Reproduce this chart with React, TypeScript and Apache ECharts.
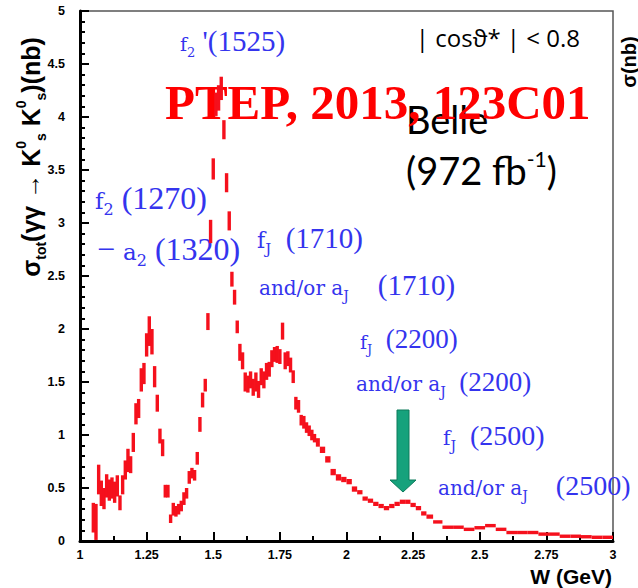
import React, { useEffect, useRef } from 'react';
import * as echarts from 'echarts';

// Bin centres W (GeV)
const W = [
  1.05, 1.06, 1.07, 1.08, 1.09, 1.10, 1.11, 1.12, 1.13, 1.14,
  1.15, 1.16, 1.17, 1.18, 1.19, 1.20, 1.21, 1.22, 1.23, 1.24,
  1.25, 1.26, 1.27, 1.28, 1.29, 1.30, 1.31, 1.32, 1.33, 1.34,
  1.35, 1.36, 1.37, 1.38, 1.39, 1.40, 1.41, 1.42, 1.43, 1.44,
  1.45, 1.46, 1.47, 1.48, 1.49, 1.50, 1.51, 1.52, 1.53, 1.54,
  1.55, 1.56, 1.57, 1.58, 1.59, 1.60, 1.61, 1.62, 1.63, 1.64,
  1.65, 1.66, 1.67, 1.68, 1.69, 1.70, 1.71, 1.72, 1.73, 1.74,
  1.75, 1.76, 1.77, 1.78, 1.79, 1.80, 1.81, 1.82, 1.83, 1.84,
  1.85, 1.86, 1.87, 1.88, 1.89,
  1.91, 1.93, 1.95, 1.97, 1.99, 2.01, 2.03, 2.05, 2.07, 2.09,
  2.11, 2.13, 2.15, 2.17, 2.19, 2.21, 2.23, 2.25, 2.27, 2.29, 2.31,
  2.34, 2.38, 2.42, 2.46, 2.50, 2.54, 2.58, 2.62, 2.66, 2.70,
  2.74, 2.78, 2.82, 2.86, 2.90, 2.94, 2.98,
];

// Cross section sigma_tot (nb)
const sigma = [
  0.22, 0.18, 0.58, 0.45, 0.40, 0.52, 0.48, 0.50, 0.46, 0.52,
  0.36, 0.53, 0.67, 0.76, 0.72, 0.93, 1.20, 1.25, 1.52, 1.58,
  1.85, 1.98, 1.88, 1.55, 1.30, 0.99, 0.88, 0.47, 0.47, 0.21,
  0.30, 0.28, 0.30, 0.33, 0.40, 0.45, 0.60, 0.64, 0.62, 0.78,
  1.10, 1.33, 1.47, 2.07, 2.92, 3.51, 4.12, 4.18, 4.27, 3.88,
  3.38, 3.02, 2.47, 2.30, 2.02, 1.78, 1.70, 1.50, 1.48, 1.52,
  1.45, 1.50, 1.43, 1.55, 1.52, 1.60, 1.62, 1.72, 1.76, 1.76,
  1.74, 1.98, 1.70, 1.72, 1.66, 1.55, 1.30, 1.27, 1.14, 1.12,
  1.07, 1.04, 1.00, 0.97, 0.93,
  0.86, 0.77, 0.65, 0.60, 0.58, 0.56, 0.49, 0.46, 0.40, 0.38,
  0.35, 0.33, 0.31, 0.33, 0.35, 0.37, 0.37, 0.34, 0.31, 0.26, 0.23,
  0.18, 0.13, 0.13, 0.11, 0.125, 0.145, 0.11, 0.08, 0.08, 0.08,
  0.065, 0.065, 0.045, 0.045, 0.04, 0.035, 0.035,
];

// Statistical errors (nb)
const sigmaErr = [
  0.14, 0.17, 0.14, 0.12, 0.10, 0.11, 0.10, 0.10, 0.10, 0.10,
  0.07, 0.09, 0.09, 0.11, 0.08, 0.09, 0.10, 0.09, 0.11, 0.10,
  0.11, 0.14, 0.12, 0.10, 0.08, 0.07, 0.08, 0.06, 0.06, 0.04,
  0.06, 0.05, 0.05, 0.05, 0.06, 0.05, 0.06, 0.05, 0.05, 0.06,
  0.07, 0.07, 0.06, 0.08, 0.11, 0.10, 0.11, 0.12, 0.11, 0.09,
  0.09, 0.09, 0.07, 0.07, 0.06, 0.08, 0.08, 0.09, 0.08, 0.08,
  0.08, 0.09, 0.08, 0.08, 0.08, 0.08, 0.07, 0.08, 0.07, 0.08,
  0.07, 0.08, 0.08, 0.07, 0.07, 0.06, 0.06, 0.06, 0.05, 0.06,
  0.05, 0.05, 0.05, 0.04, 0.04,
  0.03, 0.03, 0.03, 0.03, 0.025, 0.025, 0.025, 0.02, 0.02, 0.02,
  0.02, 0.02, 0.02, 0.02, 0.02, 0.02, 0.02, 0.02, 0.02, 0.02, 0.02,
  0.012, 0.01, 0.01, 0.01, 0.01, 0.01, 0.01, 0.008, 0.008, 0.008,
  0.007, 0.007, 0.006, 0.006, 0.006, 0.005, 0.005,
];

const RED = '#f5101c';
const BLUE = '#3434ee';
const NB = '\u00a0';

function binData() {
  const n = W.length;
  return W.map((w, i) => {
    const prev = i > 0 ? W[i - 1] : w - (W[1] - W[0]);
    const next = i < n - 1 ? W[i + 1] : w + (W[n - 1] - W[n - 2]);
    return [w, sigma[i], sigmaErr[i], (prev + w) / 2, (w + next) / 2];
  });
}

// rich styles for a resonance annotation: big serif numbers, small letters, lowered subscripts
function annRich(big: number, small: number) {
  const L = big + 14;
  const mainCenter = L / 2;
  const baseline = mainCenter + 0.34 * big;
  const sCenter = baseline - 0.35 * small;
  const subSize = Math.round(small * 0.68);
  const subCenter = baseline + 6 - 0.35 * subSize;
  const sH = 2 * (L - sCenter);
  const subH = 2 * (L - subCenter);
  return {
    b: { fontFamily: 'Liberation Serif', fontSize: big, lineHeight: L, verticalAlign: 'middle' },
    s: { fontFamily: 'DejaVu Serif', fontSize: small, height: sH, lineHeight: sH, verticalAlign: 'bottom' },
    sub: { fontFamily: 'DejaVu Serif', fontSize: subSize, height: subH, lineHeight: subH, verticalAlign: 'bottom' },
  };
}

function ann(text: string, x: number, y: number, big: number, small: number) {
  return {
    type: 'text',
    x,
    y,
    silent: true,
    style: {
      text,
      rich: annRich(big, small),
      fill: BLUE,
      align: 'left',
      verticalAlign: 'middle',
      textAlign: 'left',
      textVerticalAlign: 'middle',
    },
  };
}

function plainText(text: string, x: number, y: number, font: any, align = 'left', fill = '#000') {
  return {
    type: 'text',
    x,
    y,
    silent: true,
    style: {
      text,
      fill,
      ...font,
      align,
      verticalAlign: 'middle',
      textAlign: align,
      textVerticalAlign: 'middle',
    },
  };
}

export default function App() {
  const ref = useRef<HTMLDivElement>(null);
  useEffect(() => {
    if (!ref.current) return;
    const chart = echarts.init(ref.current, undefined, { renderer: 'svg' });
    const axisLabel = {
      color: '#000',
      fontFamily: 'Liberation Sans',
      fontWeight: 'bold',
      fontSize: 12.5,
      formatter: (v: number) => String(v),
    };
    chart.setOption({
      animation: false,
      backgroundColor: '#fff',
      grid: {
        left: 80,
        right: 25,
        top: 11,
        bottom: 47,
        show: true,
        borderColor: '#555',
        borderWidth: 1.5,
        backgroundColor: 'transparent',
      },
      xAxis: {
        type: 'value',
        min: 1,
        max: 3,
        interval: 0.25,
        axisLine: { show: true, onZero: false, lineStyle: { color: '#000', width: 3 } },
        axisTick: { show: true, inside: true, length: 9, lineStyle: { color: '#000', width: 2 } },
        minorTick: { show: true, splitNumber: 2, length: 5, lineStyle: { color: '#000', width: 2 } },
        splitLine: { show: false },
        axisLabel: { ...axisLabel, margin: 7, showMinLabel: true, showMaxLabel: true },
      },
      yAxis: {
        type: 'value',
        min: 0,
        max: 5,
        interval: 0.5,
        axisLine: { show: true, onZero: false, lineStyle: { color: '#000', width: 3 } },
        axisTick: { show: true, inside: true, length: 9, lineStyle: { color: '#000', width: 2 } },
        minorTick: { show: true, splitNumber: 5, length: 5, lineStyle: { color: '#000', width: 2 } },
        splitLine: { show: false },
        axisLabel: { ...axisLabel, margin: 15 },
      },
      series: [
        {
          type: 'custom',
          clip: true,
          data: binData(),
          encode: { x: 0, y: 1 },
          renderItem: (params: any, api: any) => {
            const y = api.value(1) as number;
            const e = api.value(2) as number;
            const lo = api.value(3) as number;
            const hi = api.value(4) as number;
            const pTop = api.coord([lo, y + e]);
            const pBot = api.coord([hi, y - e]);
            let left = pTop[0];
            let top = pTop[1];
            let w = pBot[0] - pTop[0];
            let h = pBot[1] - pTop[1];
            if (w < 3.4) {
              const c = left + w / 2;
              left = c - 1.7;
              w = 3.4;
            }
            if (h < 3.4) {
              const c = top + h / 2;
              top = c - 1.7;
              h = 3.4;
            }
            return {
              type: 'rect',
              shape: { x: left, y: top, width: w, height: h },
              style: { fill: RED },
            };
          },
        },
      ],
      graphic: [
        // y axis title
        {
          type: 'text',
          x: 31,
          y: 157,
          rotation: Math.PI / 2,
          silent: true,
          style: {
            text: '{n|σ}{sub|tot}{n|(γγ → K}{sup|0}{sub|s}{n| K}{sup|0}{sub|s}{n|)(nb)}',
            rich: {
              n: { fontFamily: 'Liberation Sans', fontWeight: 'bold', fontSize: 25, lineHeight: 34, verticalAlign: 'middle' },
              sub: { fontFamily: 'Liberation Sans', fontWeight: 'bold', fontSize: 14, lineHeight: 16, verticalAlign: 'bottom' },
              sup: { fontFamily: 'Liberation Sans', fontWeight: 'bold', fontSize: 14, lineHeight: 16, verticalAlign: 'top' },
            },
            fill: '#000',
            align: 'center',
            verticalAlign: 'middle',
            textAlign: 'center',
            textVerticalAlign: 'middle',
          },
        },
        // x axis title
        plainText('W (GeV)', 612, 576, { fontFamily: 'Liberation Sans', fontWeight: 'bold', fontSize: 21 }, 'right'),
        // cut condition
        plainText('| cosϑ* | < 0.8', 580, 37, { fontFamily: 'Open Sans', fontSize: 24 }, 'right'),
        // Belle
        plainText('Belle', 406, 119, { fontFamily: 'Lato', fontSize: 38 }),
        {
          type: 'text',
          x: 406,
          y: 170,
          silent: true,
          style: {
            text: '{n|(972 fb}{sup|-1}{n|)}',
            rich: {
              n: { fontFamily: 'Lato', fontSize: 38, lineHeight: 44, verticalAlign: 'middle' },
              sup: { fontFamily: 'Lato', fontSize: 21, lineHeight: 26, verticalAlign: 'top' },
            },
            fill: '#000',
            align: 'left',
            verticalAlign: 'middle',
            textAlign: 'left',
            textVerticalAlign: 'middle',
          },
        },
        // annotations
        ann(`{s|f}{sub|2}{b|${NB}'(1525)}`, 180, 41, 29, 19),
        ann(`{s|f}{sub|2}{b|${NB}(1270)}`, 95, 198, 32, 23),
        ann(`{b|−${NB}}{s|a}{sub|2}{b|${NB}(1320)}`, 97, 249, 32, 23),
        ann(`{s|f}{sub|J}{b|${NB}${NB}(1710)}`, 257, 238, 29, 22),
        ann(`{s|and/or${NB}a}{sub|J}{b|${NB}${NB}${NB}${NB}(1710)}`, 259, 285, 29, 20),
        ann(`{s|f}{sub|J}{b|${NB}${NB}(2200)}`, 360, 339, 27, 19),
        ann(`{s|and/or${NB}a}{sub|J}{b|${NB}${NB}(2200)}`, 356, 382, 27, 20),
        ann(`{s|f}{sub|J}{b|${NB}${NB}(2500)}`, 443, 435, 28, 20),
        ann(`{s|and/or${NB}a}{sub|J}{b|${NB}${NB}${NB}${NB}(2500)}`, 438, 485, 28, 20),
        // arrow
        {
          type: 'polygon',
          silent: true,
          shape: {
            points: [
              [397, 410], [409, 410], [409, 480], [416, 480], [403, 492], [390, 480], [397, 480],
            ],
          },
          style: { fill: '#16a27c', stroke: '#0c7a5a', lineWidth: 1 },
        },
        // watermark
        plainText('PTEP, 2013, 123C01', 165, 102, {
          fontFamily: 'Liberation Serif',
          fontWeight: 'bold',
          fontSize: 49,
        }, 'left', '#ff0000'),
        // clipped neighbouring axis title at the right edge
        {
          type: 'text',
          x: 629,
          y: 62,
          rotation: Math.PI / 2,
          silent: true,
          style: {
            text: 'σ(nb)',
            fill: '#000',
            fontFamily: 'Liberation Sans',
            fontWeight: 'bold',
            fontSize: 20,
            align: 'center',
            verticalAlign: 'middle',
            textAlign: 'center',
            textVerticalAlign: 'middle',
          },
        },
      ],
    });
    return () => chart.dispose();
  }, []);
  return (
    <div
      ref={ref}
      style={{ position: 'fixed', left: 0, top: 0, width: 638, height: 588, background: '#fff' }}
    />
  );
}
